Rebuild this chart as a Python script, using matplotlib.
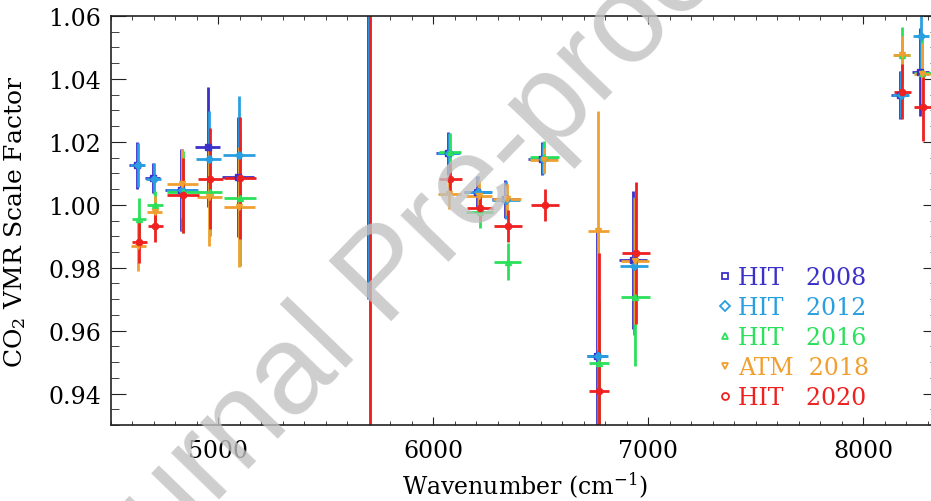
import numpy as np
import matplotlib
matplotlib.use('Agg')
from matplotlib import pyplot as plt
from matplotlib.lines import Line2D
from matplotlib.ticker import MultipleLocator, FormatStrFormatter

plt.rcParams['font.family'] = 'DejaVu Serif'
plt.rcParams['mathtext.fontset'] = 'dejavuserif'

# window centres and half widths (cm-1)
windows = [4625, 4700, 4830, 4955, 5095, 5700, 6072, 6210, 6340, 6512, 6765, 6935, 8175, 8270]
half_widths = [34, 35, 74, 58, 74, 40, 53, 62, 64, 66, 47, 66, 39, 39]

# scale factors and 1-sigma errors per line list
hit08 = [1.0125, 1.0086, 1.0046, 1.0184, 1.0088, 1.20, 1.0163, 1.0042, 1.0019, 1.0147, 0.9519, 0.9825, 1.0349, 1.0421]
hit08_err = [0.0075, 0.0048, 0.013, 0.019, 0.019, 0.23, 0.0067, 0.005, 0.006, 0.0053, 0.040, 0.022, 0.0075, 0.014]
hit12 = [1.0127, 1.0083, 1.0046, 1.0147, 1.0157, 1.20, 1.0163, 1.0040, 1.0015, 1.0147, 0.9519, 0.9806, 1.0350, 1.0535]
hit12_err = [0.007, 0.005, 0.013, 0.015, 0.019, 0.23, 0.0065, 0.005, 0.006, 0.005, 0.040, 0.022, 0.0075, 0.012]
hit16 = [0.9955, 1.0000, 1.0040, 1.0040, 1.0021, np.nan, 1.0167, 0.9977, 0.9819, 1.0152, 0.9498, 0.9707, 1.0476, 1.0420]
hit16_err = [0.0065, 0.0045, 0.013, 0.014, 0.0215, np.nan, 0.006, 0.005, 0.0059, 0.005, 0.020, 0.022, 0.009, 0.012]
atm18 = [0.9870, 0.9977, 1.0067, 1.0025, 0.9993, 0.80, 1.0035, 1.0028, 1.0017, 1.0142, 0.9918, 0.9822, 1.0475, 1.0415]
atm18_err = [0.008, 0.005, 0.011, 0.0155, 0.019, 0.40, 0.0048, 0.005, 0.005, 0.004, 0.038, 0.020, 0.006, 0.010]
hit20 = [0.9883, 0.9931, 1.0030, 1.0083, 1.0085, 0.80, 1.0083, 0.9989, 0.9932, 1.0000, 0.9408, 0.9847, 1.0360, 1.0312]
hit20_err = [0.0068, 0.0048, 0.012, 0.016, 0.0195, 0.40, 0.005, 0.004, 0.005, 0.005, 0.044, 0.0225, 0.0088, 0.011]

labels = ['HIT   2008', 'HIT   2012', 'HIT   2016', 'ATM  2018', 'HIT   2020']
colors = ['#3b30c8', '#2a9fe0', '#2be05a', '#f0a030', '#ee2020']
markers = ['s', 'D', '^', 'v', 'o']
shifts = [-4, 0, 6, 4, 8]

fig = plt.figure(figsize=(9.31, 5.02), dpi=100)
ax = fig.add_axes([110.7 / 931, 1 - 426 / 502, 827.6 / 931, 409 / 502])

data = [(hit08, hit08_err), (hit12, hit12_err), (hit16, hit16_err),
        (atm18, atm18_err), (hit20, hit20_err)]
for (vals, errs), col, mk, dx in zip(data, colors, markers, shifts):
    x = np.array(windows) + dx
    ax.errorbar(x, vals, yerr=errs, xerr=half_widths, fmt=mk, color=col,
                ms=4.5, elinewidth=2, capsize=0)

ax.set_xlim(4500, 8350)
ax.set_ylim(0.93, 1.06)
ax.set_xticks([5000, 6000, 7000, 8000])
ax.xaxis.set_minor_locator(MultipleLocator(100))
ax.yaxis.set_major_locator(MultipleLocator(0.02))
ax.yaxis.set_minor_locator(MultipleLocator(0.005))
ax.yaxis.set_major_formatter(FormatStrFormatter('%.2f'))
ax.tick_params(axis='both', which='both', direction='in', top=True, right=True,
               labelsize=17, color='#222222')
ax.tick_params(axis='x', which='major', length=6, pad=10)
ax.tick_params(axis='x', which='minor', length=3)
ax.tick_params(axis='y', which='major', length=11, pad=7)
ax.tick_params(axis='y', which='minor', length=6)
for s in ax.spines.values():
    s.set_linewidth(1.2)
    s.set_color('#222222')

ax.set_xlabel('Wavenumber (cm$^{-1}$)', fontsize=17)
ax.set_ylabel('CO$_2$ VMR Scale Factor', fontsize=18)
ax.xaxis.set_label_coords(0.5, -0.11)
ax.yaxis.set_label_coords(-0.10, 0.5)

handles = [Line2D([], [], ls='none', marker=m, color=c, mfc='none', ms=5, mew=1.3)
           for m, c in zip(markers, colors)]
ax.legend(handles, labels, loc='lower left', bbox_to_anchor=(706 / 931, 1 - 422 / 502),
          bbox_transform=fig.transFigure, frameon=False, handlelength=0.6,
          handletextpad=0.25, borderpad=0, labelspacing=0.3, fontsize=17,
          labelcolor=colors)

# watermark printed across the figure
fig.text(388 / 931, 1 - 278 / 502, 'Journal Pre-proof', rotation=46, ha='center',
         va='center', fontsize=91, color='#c2c2c2', alpha=0.8,
         family='Liberation Sans', zorder=10)

plt.savefig('out.png', dpi=100)
